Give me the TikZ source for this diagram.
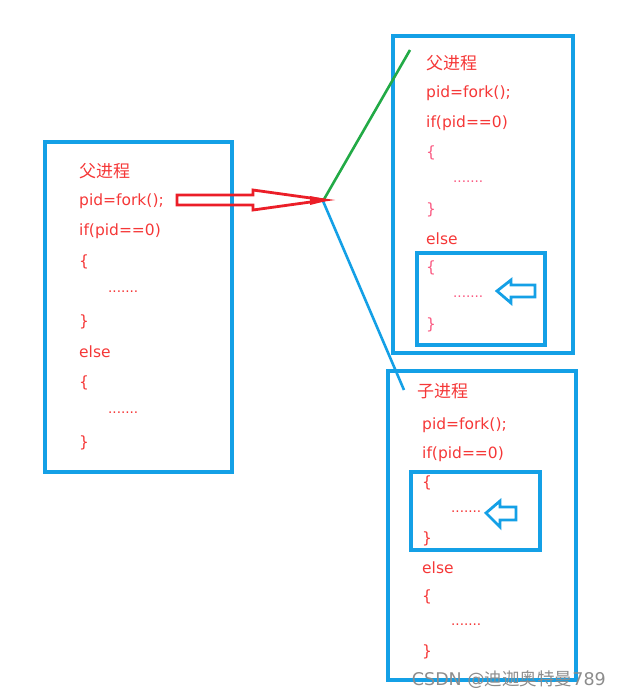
\documentclass[tikz,border=0pt]{standalone}
\usepackage{fontspec}
\setmainfont{DejaVu Sans}
\newfontfamily\cjk{Noto Sans CJK SC}
\usepackage{tikz}
\usetikzlibrary{calc}
\definecolor{boxblue}{RGB}{20,160,230}
\definecolor{codered}{RGB}{245,55,55}
\definecolor{codepink}{RGB}{250,90,130}
\definecolor{linegreen}{RGB}{34,170,70}
\definecolor{arrowred}{RGB}{235,30,40}
\tikzset{
  code/.style={anchor=west,inner sep=0pt,text=codered,font=\fontsize{15.5}{18}\selectfont},
  title/.style={code,font=\fontsize{17}{19}\selectfont\cjk},
  dots/.style={code,font=\fontsize{13.5}{16}\selectfont},
  pale/.style={code,text=codepink},
  frame/.style={draw=boxblue,line width=3.2pt},
  hollow/.style={draw=boxblue,line width=2.8pt,line join=miter}
}
\begin{document}
\begin{tikzpicture}[x=1pt,y=-1pt]
\useasboundingbox (0,0) rectangle (620,697);
% parent process (left)
\draw[frame] (45,142) rectangle (232,472);
\node[title] (lname) at (79,171) {父进程};
\node[code] (lpid) at (79,201) {pid=fork();};
\node[code] (lif) at (79,231) {if(pid==0)};
\node[code] (lob1) at (79,262) {\{};
\node[dots] (ldot1) at (108,292) {.......};
\node[code] (lcb1) at (79,322) {\}};
\node[code] (lelse) at (79,352) {else};
\node[code] (lob2) at (79,383) {\{};
\node[dots] (ldot2) at (108,413) {.......};
\node[code] (lcb2) at (79,443) {\}};

% parent after fork (top right)
\draw[frame] (393,36) rectangle (573,353);
\node[title] (tname) at (426,63) {父进程};
\node[code] (tpid) at (426,93) {pid=fork();};
\node[code] (tif) at (426,123) {if(pid==0)};
\node[pale] (tob1) at (426,153) {\{};
\node[dots,text=codepink] (tdot1) at (453,182) {.......};
\node[pale] (tcb1) at (426,210) {\}};
\node[code] (telse) at (426,239) {else};
\node[pale] (tob2) at (426,268) {\{};
\node[dots,text=codepink] (tdot2) at (453,297) {.......};
\node[pale] (tcb2) at (426,325) {\}};
\draw[frame] (417,253) rectangle (545,345);
\draw[hollow] (497,291)--(511,280)--(511,285)--(535,285)--(535,297)--(511,297)--(511,303)--cycle;

% child process (bottom right)
\draw[frame] (388,371) rectangle (576,680);
\node[title] (cname) at (417,391) {子进程};
\node[code] (cpid) at (422,425) {pid=fork();};
\node[code] (cif) at (422,454) {if(pid==0)};
\node[code] (cob1) at (422,483) {\{};
\node[dots] (cdot1) at (451,512) {.......};
\node[code] (ccb1) at (422,539) {\}};
\node[code] (celse) at (422,568) {else};
\node[code] (cob2) at (422,597) {\{};
\node[dots] (cdot2) at (451,625) {.......};
\node[code] (ccb2) at (422,652) {\}};
\draw[frame] (411,472) rectangle (540,550);
\draw[hollow] (486,513)--(500,501)--(500,507)--(516,507)--(516,520)--(500,520)--(500,527)--cycle;

% fork point and branches
\coordinate (tail) at (177,200);
\coordinate (fork) at (323,201);
\coordinate (tend) at (410,50);
\coordinate (cend) at (404,390);
\draw[linegreen,line width=2.6pt] (fork)--(tend);
\draw[boxblue,line width=2.6pt] (fork)--(cend);
\draw[arrowred,line width=2.8pt,line join=miter]
  ($(tail)+(0,-5)$)--(253,195)--(253,190)--($(fork)+(2,-1)$)--(253,210)--(253,205)--($(tail)+(0,5)$)--cycle;
\fill[arrowred] (310,196)--(330,200)--(310,205)--cycle;

\node[anchor=east,inner sep=0pt,text=black!45,font=\fontsize{17.5}{20}\selectfont] (mark) at (606,680) {CSDN @\cjk 迪迦奥特曼\rmfamily 789};
\end{tikzpicture}
\end{document}
